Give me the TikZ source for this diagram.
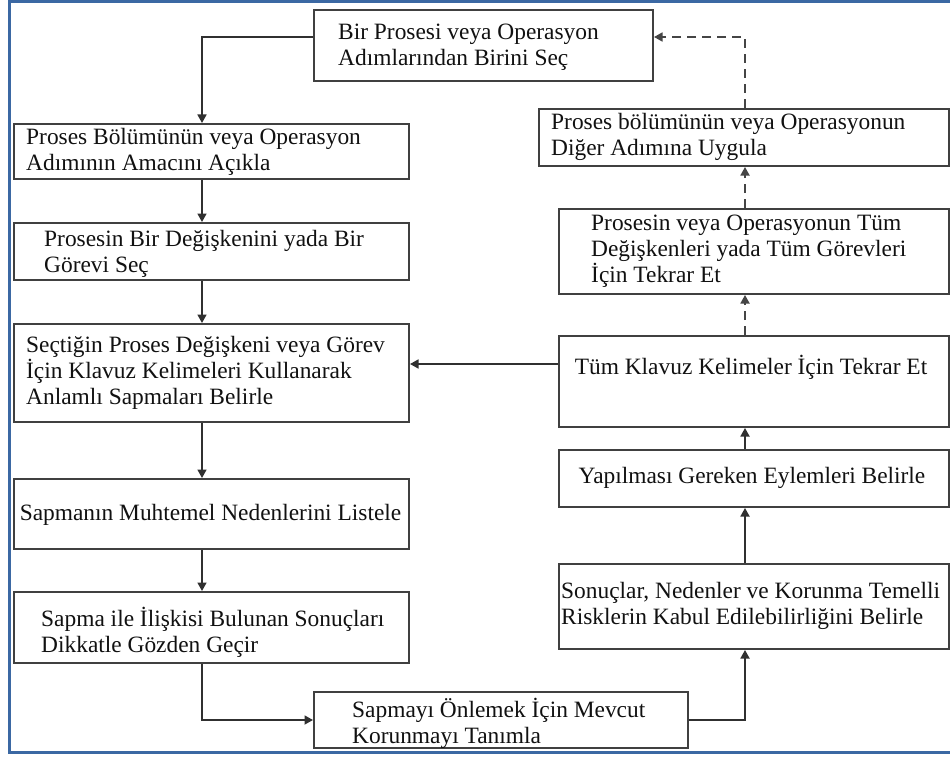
\documentclass[tikz,border=0pt]{standalone}
\usepackage{fontspec}
\setmainfont{Liberation Serif}
\usetikzlibrary{arrows.meta}
\definecolor{framecol}{HTML}{3B68A3}
\definecolor{boxcol}{HTML}{404040}
\definecolor{linecol}{HTML}{303030}
\definecolor{txtcol}{HTML}{111111}
\begin{document}
\begin{tikzpicture}[x=1pt,y=-1pt,
  box/.style={draw=boxcol,line width=2pt,fill=white,rectangle,inner sep=0pt,anchor=north west},
  txt/.style={inner sep=0pt,align=left,text=txtcol,font=\fontsize{23.4}{26}\selectfont},
  txtc/.style={txt,align=center},
  conn/.style={draw=linecol,line width=1.7pt,-{Triangle[length=8.5pt,width=9pt]}},
  dconn/.style={conn,draw=linecol!90,dash pattern=on 9pt off 6pt}]
\useasboundingbox (0,0) rectangle (950,757);
\fill[white] (0,0) rectangle (950,757);
% outer frame
\draw[framecol,line width=3pt] (955,1.5) -- (9.5,1.5) -- (9.5,752.5) -- (955,752.5);

% boxes
\node[box,minimum width=339pt,minimum height=71pt] (top) at (313,9) {};
\node[box,minimum width=395pt,minimum height=55pt] (b1) at (13,123) {};
\node[box,minimum width=395pt,minimum height=57pt] (b2) at (13,222) {};
\node[box,minimum width=395pt,minimum height=98pt] (b3) at (13,323) {};
\node[box,minimum width=395pt,minimum height=70pt] (b4) at (13,478) {};
\node[box,minimum width=395pt,minimum height=71pt] (b5) at (13,591) {};
\node[box,minimum width=374pt,minimum height=56pt] (bot) at (313,691) {};
\node[box,minimum width=390pt,minimum height=85pt] (r1) at (558,563) {};
\node[box,minimum width=390pt,minimum height=57pt] (r2) at (558,449) {};
\node[box,minimum width=390pt,minimum height=91pt] (r3) at (558,335) {};
\node[box,minimum width=390pt,minimum height=85pt] (r4) at (558,208) {};
\node[box,minimum width=410pt,minimum height=57pt] (r5) at (538,108) {};

% texts
\node[txt,anchor=west] (ttop) at (338,47) {Bir Prosesi veya Operasyon\\Adımlarından Birini Seç};
\node[txt,anchor=west] (tb1) at (26,152) {Proses Bölümünün veya Operasyon\\Adımının Amacını Açıkla};
\node[txt,anchor=west] (tb2) at (44,254) {Prosesin Bir Değişkenini yada Bir\\Görevi Seç};
\node[txt,anchor=west] (tb3) at (26,373) {Seçtiğin Proses Değişkeni veya Görev\\İçin Klavuz Kelimeleri Kullanarak\\Anlamlı Sapmaları Belirle};
\node[txtc] (tb4) at (210.5,515) {Sapmanın Muhtemel Nedenlerini Listele};
\node[txt,anchor=west] (tb5) at (41,632) {Sapma ile İlişkisi Bulunan Sonuçları\\Dikkatle Gözden Geçir};
\node[txt,anchor=west] (tbot) at (352,723) {Sapmayı Önlemek İçin Mevcut\\Korunmayı Tanımla};
\node[txt,anchor=west] (tr1) at (561,606) {Sonuçlar, Nedenler ve Korunma Temelli\\Risklerin Kabul Edilebilirliğini Belirle};
\node[txtc] (tr2) at (752,478) {Yapılması Gereken Eylemleri Belirle};
\node[txtc] (tr3) at (751,367) {Tüm Klavuz Kelimeler İçin Tekrar Et};
\node[txt,anchor=west] (tr4) at (591,251) {Prosesin veya Operasyonun Tüm\\Değişkenleri yada Tüm Görevleri\\İçin Tekrar Et};
\node[txt,anchor=west] (tr5) at (551,137) {Proses bölümünün veya Operasyonun\\Diğer Adımına Uygula};

% connector guide positions
\coordinate (lx) at (202,0);
\coordinate (rx) at (745,0);
\coordinate (ly) at (0,364);
\coordinate (topy) at (0,37);

% left column, downward
\draw[conn] (top.west |- topy) -| (lx |- b1.north);
\draw[conn] (lx |- b1.south) -- (lx |- b2.north);
\draw[conn] (lx |- b2.south) -- (lx |- b3.north);
\draw[conn] (lx |- b3.south) -- (lx |- b4.north);
\draw[conn] (lx |- b4.south) -- (lx |- b5.north);
\draw[conn] (lx |- b5.south) |- (bot.west);

% right column, upward
\draw[conn] (bot.east) -| (rx |- r1.south);
\draw[conn] (rx |- r1.north) -- (rx |- r2.south);
\draw[conn] (rx |- r2.north) -- (rx |- r3.south);
\draw[conn] (r3.west |- ly) -- (b3.east |- ly);

% repeat loops
\draw[dconn] (rx |- r3.north) -- (rx |- r4.south);
\draw[dconn] (rx |- r4.north) -- (rx |- r5.south);
\draw[dconn] (rx |- r5.north) |- (top.east |- topy);
\end{tikzpicture}
\end{document}
